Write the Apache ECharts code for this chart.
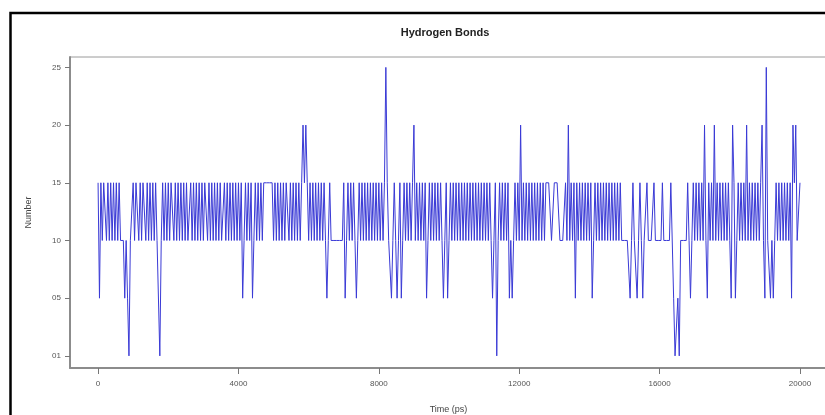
<!DOCTYPE html>
<html>
<head>
<meta charset="utf-8">
<title>Hydrogen Bonds</title>
<script src="https://cdn.jsdelivr.net/npm/echarts@6/dist/echarts.min.js"></script>
<style>
    html, body { margin: 0; padding: 0; background: #ffffff; overflow: hidden; }
    #main { width: 825px; height: 415px; }
</style>
</head>
<body>
<div id="main"></div>
<script>
    // 时间轴 (ps)，每 40 ps 一个采样点
    var step = 40;
    var xTicks = [0, 4000, 8000, 12000, 16000, 20000];

    // y 轴按等级排列：01, 05, 10, 15, 20, 25
    var levels = [1, 5, 10, 15, 20, 25];
    var levelLabels = ['01', '05', '10', '15', '20', '25'];

    // 氢键数目
    var hbonds = [
        15, 5, 15, 10, 15, 15, 10, 15, 10, 15,
        10, 15, 10, 15, 10, 15, 10, 10, 10, 5,
        10, 5, 1, 10, 10, 15, 10, 15, 15, 10,
        15, 10, 15, 15, 10, 15, 10, 15, 10, 15,
        10, 15, 10, 10, 1, 10, 15, 10, 15, 10,
        15, 10, 15, 15, 10, 15, 10, 15, 10, 15,
        10, 15, 10, 15, 10, 10, 15, 10, 15, 10,
        15, 10, 15, 10, 15, 10, 15, 15, 10, 15,
        10, 15, 10, 15, 10, 15, 10, 15, 10, 10,
        15, 10, 15, 10, 15, 10, 15, 10, 15, 10,
        15, 10, 15, 5, 10, 15, 10, 15, 10, 15,
        5, 10, 15, 10, 15, 10, 15, 10, 15, 15,
        15, 15, 15, 15, 15, 10, 15, 10, 15, 10,
        15, 10, 15, 10, 15, 15, 10, 15, 10, 15,
        10, 15, 10, 15, 10, 15, 20, 15, 20, 15,
        10, 15, 10, 15, 10, 15, 10, 15, 10, 15,
        10, 15, 10, 5, 10, 15, 10, 10, 10, 10,
        10, 10, 10, 10, 10, 15, 5, 10, 15, 10,
        15, 10, 15, 10, 5, 10, 15, 10, 15, 10,
        15, 10, 15, 10, 15, 10, 15, 10, 15, 10,
        15, 10, 15, 10, 15, 25, 15, 10, 10, 5,
        10, 15, 10, 5, 10, 15, 5, 10, 15, 10,
        15, 10, 15, 10, 15, 20, 10, 15, 10, 15,
        10, 15, 10, 15, 5, 10, 15, 10, 15, 10,
        15, 10, 15, 10, 15, 10, 5, 10, 15, 5,
        10, 15, 10, 15, 10, 15, 10, 15, 10, 15,
        10, 15, 10, 15, 10, 15, 10, 15, 10, 15,
        10, 15, 10, 15, 10, 15, 10, 15, 10, 15,
        10, 5, 10, 15, 1, 10, 15, 10, 15, 10,
        15, 10, 15, 5, 10, 5, 10, 15, 10, 15,
        10, 20, 10, 15, 10, 15, 10, 15, 10, 15,
        10, 15, 10, 15, 10, 15, 10, 15, 10, 15,
        15, 15, 15, 10, 10, 15, 15, 15, 15, 10,
        10, 10, 10, 15, 10, 20, 10, 15, 10, 15,
        5, 15, 10, 15, 10, 15, 10, 15, 10, 15,
        10, 15, 5, 10, 15, 10, 15, 10, 15, 10,
        15, 10, 15, 10, 15, 10, 15, 10, 15, 10,
        15, 10, 15, 10, 10, 10, 10, 10, 10, 5,
        10, 15, 10, 10, 5, 10, 15, 10, 5, 10,
        10, 15, 10, 10, 10, 10, 15, 10, 10, 10,
        10, 10, 15, 10, 10, 10, 10, 10, 15, 15,
        5, 1, 1, 5, 1, 10, 10, 10, 10, 10,
        15, 10, 5, 10, 15, 10, 15, 10, 15, 10,
        15, 10, 20, 10, 5, 15, 10, 15, 10, 20,
        10, 15, 10, 15, 10, 15, 10, 15, 10, 15,
        10, 5, 20, 15, 5, 10, 15, 10, 15, 10,
        15, 10, 20, 10, 15, 10, 15, 10, 15, 10,
        15, 10, 15, 20, 10, 5, 25, 10, 10, 5,
        10, 5, 10, 15, 10, 15, 10, 15, 10, 15,
        10, 15, 10, 15, 5, 20, 15, 20, 10, 10,
        15
    ];

    var seriesData = [];
    for (var i = 0; i < hbonds.length; i++) {
        seriesData.push([i * step, levels.indexOf(hbonds[i])]);
    }

    var myChart = echarts.init(document.getElementById('main'), null, {renderer: 'canvas'});

    var option = {
        animation: false,
        backgroundColor: '#ffffff',
        title: {
            text: 'Hydrogen Bonds',
            left: 440,
            textAlign: 'center',
            top: 22,
            textStyle: {
                fontFamily: 'Liberation Sans',
                fontSize: 11,
                fontWeight: 'bold',
                color: '#222'
            }
        },
        // 外框
        graphic: [{
            type: 'rect',
            shape: {x: 10.5, y: 13, width: 830, height: 420},
            style: {fill: 'none', stroke: '#000', lineWidth: 2.5},
            silent: true
        }],
        grid: {
            left: 70,
            top: 57,
            right: -2,
            bottom: 47,
            outerBoundsMode: 'none',
            show: true,
            borderColor: '#9a9a9a',
            borderWidth: 1
        },
        xAxis: {
            type: 'value',
            min: -800,
            max: 20770,
            name: 'Time (ps)',
            nameLocation: 'middle',
            nameGap: 37,
            nameTextStyle: {fontFamily: 'Liberation Sans', fontSize: 9, color: '#444'},
            splitLine: {show: false},
            axisLine: {onZero: false, lineStyle: {color: '#8c8c8c', width: 2}},
            axisTick: {customValues: xTicks, length: 6, lineStyle: {color: '#777', width: 1}},
            axisLabel: {
                customValues: xTicks,
                margin: 12,
                fontFamily: 'Liberation Sans',
                fontSize: 8,
                color: '#555',
                formatter: function (v) {
                    return String(v);
                }
            }
        },
        yAxis: {
            type: 'value',
            min: -0.21,
            max: 5.18,
            name: 'Number',
            nameLocation: 'middle',
            nameGap: 37,
            nameRotate: 90,
            nameTextStyle: {fontFamily: 'Liberation Sans', fontSize: 9, color: '#444'},
            splitLine: {show: false},
            axisLine: {show: true, onZero: false, lineStyle: {color: '#8c8c8c', width: 2}},
            axisTick: {show: true, customValues: [0, 1, 2, 3, 4, 5], length: 5, lineStyle: {color: '#777', width: 1}},
            axisLabel: {
                customValues: [0, 1, 2, 3, 4, 5],
                margin: 9,
                fontFamily: 'Liberation Sans',
                fontSize: 8,
                color: '#555',
                formatter: function (v) {
                    return levelLabels[Math.round(v)];
                }
            }
        },
        series: [{
            type: 'line',
            data: seriesData,
            symbol: 'none',
            lineStyle: {color: '#3a3ad6', width: 1}
        }]
    };

    myChart.setOption(option);
</script>
</body>
</html>
